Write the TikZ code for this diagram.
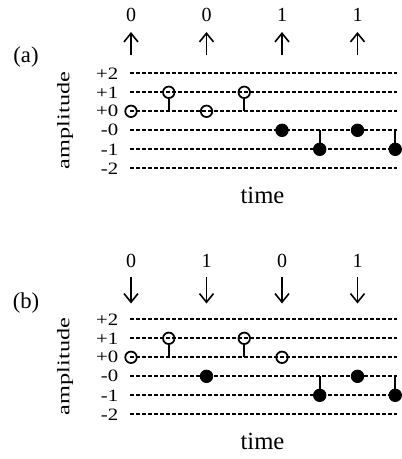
\documentclass[tikz,border=0pt]{standalone}
\usepackage{fontspec}
\setmainfont{Liberation Serif}
\usetikzlibrary{arrows.meta}
\begin{document}
\begin{tikzpicture}[x=0.75pt,y=-0.75pt,
  lvl/.style={dash pattern=on 3pt off 1.5pt, line width=1.3pt},
  opn/.style={circle, draw, line width=1.3pt, inner sep=0pt, minimum size=8.6pt},
  fil/.style={circle, draw, fill, line width=0.6pt, inner sep=0pt, minimum size=9.4pt},
  stem/.style={line width=1.3pt},
  arr/.style={line width=1.2pt, -{Straight Barb[length=6.5pt,width=10.5pt,line width=1.2pt]}},
  bit/.style={font=\fontsize{15}{17}\selectfont, inner sep=0pt},
  tick/.style={font=\fontsize{13}{15}\selectfont, inner sep=0pt, anchor=east},
  panlab/.style={font=\fontsize{17}{19}\selectfont, inner sep=0pt},
  axlab/.style={font=\fontsize{18.5}{20}\selectfont, inner sep=0pt}
]
\useasboundingbox (0,0) rectangle (402,459);

% ---------------- panel (a)
\begin{scope}[name prefix=a-]
  \node[panlab] (lab) at (26,56.7) {(a)};
  \node[axlab, rotate=90] (amp) at (65,120.5) {\scalebox{1.3}[0.95]{\fontsize{14}{16}\selectfont amplitude}};
  \node[axlab] (time) at (262.5,195) {time};
  \foreach \k/\lab in {0/+2,1/+1,2/+0,3/-0,4/-1,5/-2} {
    \coordinate (s\k) at (130,73.3+19*\k);
    \coordinate (e\k) at (397,73.3+19*\k);
    \draw[lvl] (s\k) -- (e\k);
    \node[tick] (t\k) at (118.5,73.3+19*\k) {\scalebox{1.2}[1]{\lab}};
  }
  \foreach \i/\b in {0/0,2/0,4/1,6/1} {
    \node[bit] (b\i) at (131+37.75*\i,14.5) {\b};
    \coordinate (ab\i) at (131+37.75*\i,55.5);
    \coordinate (at\i) at (131+37.75*\i,32);
    \draw[arr] (ab\i) -- (at\i);
  }
  \foreach \i/\k in {0/2,1/1,2/2,3/1} {
    \node[opn] (p\i) at (131+37.75*\i,73.3+19*\k) {};
  }
  \foreach \i/\k in {4/3,5/4,6/3,7/4} {
    \node[fil] (p\i) at (131+37.75*\i,73.3+19*\k) {};
  }
  \foreach \i in {1,3} { \draw[stem] (p\i.south) -- (p\i |- s2); }
  \foreach \i in {5,7} { \draw[stem] (p\i.north) -- (p\i |- s3); }
\end{scope}

% ---------------- panel (b)
\begin{scope}[name prefix=b-, yshift=-184.5pt]
  \node[panlab] (lab) at (26,56.7) {(b)};
  \node[axlab, rotate=90] (amp) at (65,120.5) {\scalebox{1.3}[0.95]{\fontsize{14}{16}\selectfont amplitude}};
  \node[axlab] (time) at (262.5,195.5) {time};
  \foreach \k/\lab in {0/+2,1/+1,2/+0,3/-0,4/-1,5/-2} {
    \coordinate (s\k) at (130,73.3+19*\k);
    \coordinate (e\k) at (397,73.3+19*\k);
    \draw[lvl] (s\k) -- (e\k);
    \node[tick] (t\k) at (118.5,73.3+19*\k) {\scalebox{1.2}[1]{\lab}};
  }
  \foreach \i/\b in {0/0,2/1,4/0,6/1} {
    \node[bit] (b\i) at (131+37.75*\i,14.5) {\b};
    \coordinate (ab\i) at (131+37.75*\i,31);
    \coordinate (at\i) at (131+37.75*\i,57.5);
    \draw[arr] (ab\i) -- (at\i);
  }
  \foreach \i/\k in {0/2,1/1,3/1,4/2} {
    \node[opn] (p\i) at (131+37.75*\i,73.3+19*\k) {};
  }
  \foreach \i/\k in {2/3,5/4,6/3,7/4} {
    \node[fil] (p\i) at (131+37.75*\i,73.3+19*\k) {};
  }
  \foreach \i in {1,3} { \draw[stem] (p\i.south) -- (p\i |- s2); }
  \foreach \i in {5,7} { \draw[stem] (p\i.north) -- (p\i |- s3); }
\end{scope}
\end{tikzpicture}
\end{document}
